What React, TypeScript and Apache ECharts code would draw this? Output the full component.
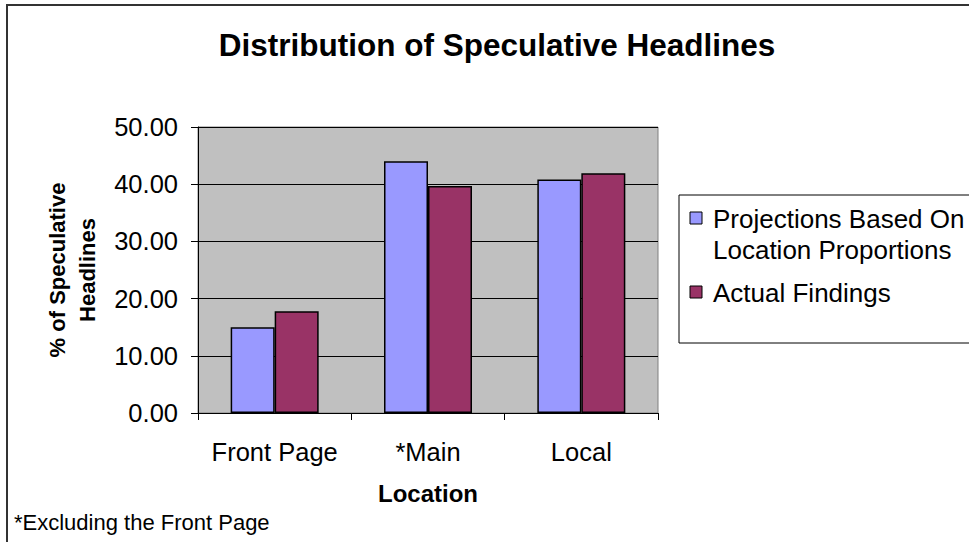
import React, { useEffect, useRef } from "react";
import * as echarts from "echarts";

const categories = ["Front Page", "*Main", "Local"];
const seriesNames = ["Projections Based On\nLocation Proportions", "Actual Findings"];
const projections = [15.0, 44.0, 40.8];
const actual = [17.8, 39.7, 41.9];
const colors = ["#9999FF", "#993366"];
const yTicks = { min: 0, max: 50, interval: 10 };

const FONT = "'Liberation Sans', Arial, sans-serif";

export default function App() {
  const ref = useRef<HTMLDivElement>(null);
  useEffect(() => {
    if (!ref.current) return;
    const chart = echarts.init(ref.current, undefined, { renderer: "svg" });
    const legendLines = [218, 292];
    chart.setOption({
      animation: false,
      backgroundColor: "#ffffff",
      textStyle: { fontFamily: FONT },
      title: {
        text: "Distribution of Speculative Headlines",
        left: 492,
        top: 24,
        textAlign: "center",
        textStyle: { fontFamily: FONT, fontSize: 31.5, fontWeight: "bold", color: "#000" },
      },
      grid: {
        left: 198,
        top: 127,
        right: 311,
        bottom: 129,
        show: true,
        backgroundColor: "#C0C0C0",
        borderColor: "#808080",
        borderWidth: 1,
      },
      xAxis: {
        type: "category",
        data: categories,
        name: "Location",
        nameLocation: "middle",
        nameGap: 68,
        nameTextStyle: { fontFamily: FONT, fontSize: 24, fontWeight: "bold", color: "#000" },
        axisLine: { show: true, lineStyle: { color: "#000", width: 1 } },
        axisTick: { show: true, length: 7, lineStyle: { color: "#000" } },
        axisLabel: { fontFamily: FONT, fontSize: 25.5, color: "#000", margin: 26, interval: 0 },
      },
      yAxis: {
        type: "value",
        min: yTicks.min,
        max: yTicks.max,
        interval: yTicks.interval,
        name: "% of Speculative\nHeadlines",
        nameLocation: "middle",
        nameGap: 96,
        nameRotate: 90,
        nameTextStyle: {
          fontFamily: FONT,
          fontSize: 22,
          fontWeight: "bold",
          color: "#000",
          lineHeight: 30,
        },
        axisLine: { show: true, lineStyle: { color: "#000", width: 1 } },
        axisTick: { show: true, length: 7, lineStyle: { color: "#000" } },
        axisLabel: {
          fontFamily: FONT,
          fontSize: 25.5,
          color: "#000",
          margin: 20,
          formatter: (v: number) => v.toFixed(2),
        },
        splitLine: { show: true, lineStyle: { color: "#000", width: 1 } },
      },
      series: [
        {
          type: "bar",
          name: seriesNames[0],
          data: projections,
          barGap: "0%",
          barWidth: 44,
          itemStyle: { color: colors[0], borderColor: "#000", borderWidth: 1.5 },
        },
        {
          type: "bar",
          name: seriesNames[1],
          data: actual,
          barGap: "0%",
          barWidth: 44,
          itemStyle: { color: colors[1], borderColor: "#000", borderWidth: 1.5 },
        },
      ],
      graphic: [
        {
          type: "rect",
          silent: true,
          z: -1,
          shape: { x: 7, y: 5, width: 1000, height: 600 },
          style: { fill: "none", stroke: "#333", lineWidth: 2 },
        },
        {
          type: "rect",
          shape: { x: 679, y: 195, width: 400, height: 148 },
          style: { fill: "#fff", stroke: "#000", lineWidth: 1 },
        },
        ...seriesNames.map((n, i) => ({
          type: "group",
          children: [
            {
              type: "rect",
              shape: { x: 690, y: legendLines[i] - 6, width: 12, height: 12 },
              style: { fill: colors[i], stroke: "#000", lineWidth: 1 },
            },
            {
              type: "text",
              x: 713,
              y: legendLines[i] - 15,
              style: {
                text: n,
                fontFamily: FONT,
                fontSize: 26,
                lineHeight: 31,
                fill: "#000",
                textVerticalAlign: "top",
              },
            },
          ],
        })),
        {
          type: "text",
          x: 14,
          y: 522,
          style: {
            text: "*Excluding the Front Page",
            fontFamily: FONT,
            fontSize: 22,
            fill: "#000",
            textVerticalAlign: "middle",
          },
        },
      ],
    });
    return () => chart.dispose();
  }, []);
  return (
    <div
      ref={ref}
      style={{ position: "fixed", left: 0, top: 0, width: 969, height: 542 }}
    />
  );
}
